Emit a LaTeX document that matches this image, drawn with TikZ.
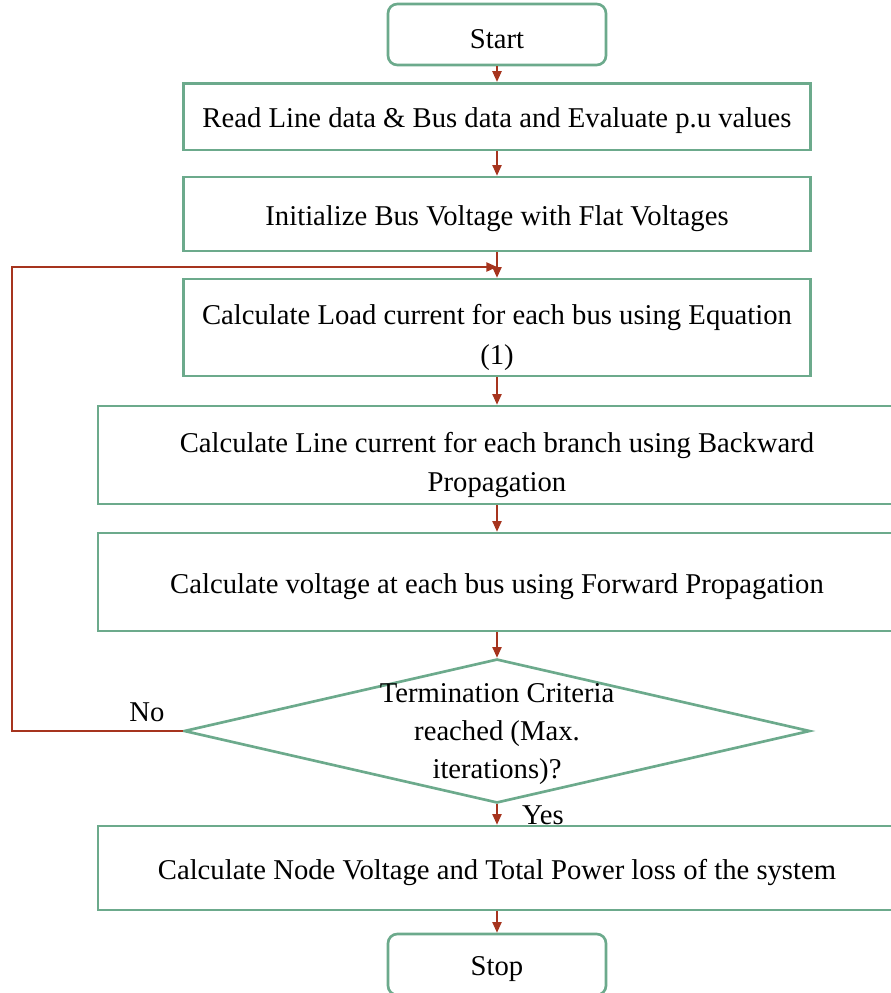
\documentclass[tikz,border=0pt]{standalone}
\usepackage{fontspec}
\setmainfont{Liberation Serif}
\usepackage{tikz}
\usetikzlibrary{arrows.meta,shapes.geometric}
\definecolor{boxgreen}{RGB}{108,170,140}
\definecolor{arrowred}{RGB}{166,52,30}
\newcommand{\topgap}{\rule{0pt}{21.5pt}}
\newcommand{\bigtopgap}{\rule{0pt}{30pt}}
\tikzset{
  boxfont/.style={font=\fontsize{21.5}{29.5}\selectfont},
  procbox/.style={rectangle, draw=boxgreen, line width=2pt, fill=white,
                  align=center, boxfont, inner sep=2pt},
  onebox/.style={procbox, execute at begin node=\topgap},
  termbox/.style={onebox, rounded corners=7pt,
                  minimum width=163.5pt, minimum height=45.75pt},
  decbox/.style={diamond, draw=boxgreen, line width=2pt, fill=white,
                 aspect=4.35, inner sep=0pt,
                 minimum width=469.5pt, minimum height=108pt},
  dectext/.style={align=center, font=\fontsize{21.5}{28.5}\selectfont,
                  inner sep=0pt, yshift=-2pt},
  arr/.style={-{Triangle[length=8pt,width=7pt]}, line width=1pt, color=arrowred},
  lbl/.style={boxfont, inner sep=1pt},
}
\begin{document}
\begin{tikzpicture}[x=0.75pt,y=-0.75pt]
  \useasboundingbox (0,0) rectangle (891,993);
  % terminals
  \node[termbox] (start) at (497,34.5) {Start};
  \node[termbox] (stop) at (497,964.5) {Stop};
  % process steps
  \node[onebox, minimum width=470pt, minimum height=50pt] (readdata) at (497,116.5)
       {Read Line data \& Bus data and Evaluate p.u values};
  \node[onebox, minimum width=470pt, minimum height=55.5pt] (initv) at (497,214)
       {Initialize Bus Voltage with Flat Voltages};
  \node[procbox, minimum width=470pt, minimum height=72.75pt] (loadcur) at (497,327.5)
       {\bigtopgap Calculate Load current for each bus using Equation\\(1)};
  \node[procbox, minimum width=598.5pt, minimum height=73.5pt] (linecur) at (497,455)
       {\bigtopgap Calculate Line current for each branch using Backward\\Propagation};
  \node[onebox, minimum width=598.5pt, minimum height=73.5pt] (fwdvolt) at (497,582)
       {Calculate voltage at each bus using Forward Propagation};
  % decision
  \node[decbox, label={[dectext]center:Termination Criteria\\reached (Max.\\iterations)?}]
       (termcrit) at (497,731) {};
  \node[onebox, minimum width=598.5pt, minimum height=63pt] (nodevolt) at (497,868)
       {Calculate Node Voltage and Total Power loss of the system};
  % main flow
  \foreach \a/\b in {start/readdata, readdata/initv, initv/loadcur, loadcur/linecur,
                     linecur/fwdvolt, fwdvolt/termcrit, termcrit/nodevolt, nodevolt/stop}
    \draw[arr] (\a.south) -- (\b.north);
  % loop back
  \coordinate (loopend) at (497,267);
  \draw[arr] (termcrit.west) -- (12,731) -- (12,267) -- (loopend);
  \node[lbl] (nolbl) at (147,712) {No};
  \node[lbl] (yeslbl) at (543,815) {Yes};
\end{tikzpicture}
\end{document}
